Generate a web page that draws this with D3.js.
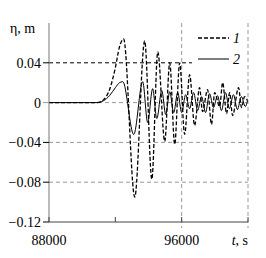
<!DOCTYPE html>
<html>
<head>
<meta charset="utf-8">
<script src="https://cdn.jsdelivr.net/npm/d3@7"></script>
<style>
  body { margin: 0; background: #fff; }
  #chart text { font-family: 'Liberation Serif', 'Times New Roman', Times, serif !important; font-size: 14px; }
</style>
</head>
<body>
<svg id="chart" width="266" height="258"></svg>
<script>
// series 1 (dashed): time, elevation
var t1 = [88000, 90900, 91300, 91650, 92000, 92250, 92500, 93170, 93770, 94200, 94560, 94980,
          95280, 95580, 95880, 96180, 96480, 96780, 97080, 97260, 97560, 97800, 97990, 98290,
          98470, 98710, 98890, 99070, 99430, 99610, 99790, 99970];
var eta1 = [0, 0, 0.003, 0.013, 0.035, 0.056, 0.064, -0.095, 0.062, -0.077, 0.051, -0.039,
            0.040, -0.042, 0.040, -0.032, 0.028, -0.023, 0.015, -0.009, 0.013, -0.022, 0.010, -0.004,
            0.020, -0.011, 0.010, -0.013, 0.015, -0.005, 0.006, 0.002];

// series 2 (solid)
var t2 = [88000, 90900, 91300, 91650, 92000, 92250, 92450, 93110, 93650, 93950, 94250, 94500,
          94800, 95040, 95280, 95520, 95760, 96000, 96240, 96480, 96720, 96960, 97200, 97440,
          97680, 97920, 98160, 98400, 98640, 98880, 99120, 99360, 99600, 99840, 99970];
var eta2 = [0, 0, 0.002, 0.007, 0.015, 0.020, 0.021, -0.032, 0.021, -0.020, 0.014, -0.016,
            0.012, -0.012, 0.011, -0.010, 0.010, -0.010, 0.008, -0.006, 0.010, -0.008, 0.006, -0.010,
            0.009, -0.005, 0.007, -0.008, 0.010, -0.006, 0.008, -0.007, 0.006, -0.004, 0.002];

var yTicks = [0.04, 0, -0.04, -0.08, -0.12];
var yTickLabels = ["0.04", "0", "\u22120.04", "\u22120.08", "\u22120.12"];
var xTicks = [88000, 92000, 96000, 100000];
var xLabels = [88000, 96000];
var legendNames = ["1", "2"];

var svg = d3.select("#chart");
var margin = {top: 23, right: 18, bottom: 36, left: 49};
var width = 266 - margin.left - margin.right;
var height = 258 - margin.top - margin.bottom;
var serif = "'Liberation Serif', 'Times New Roman', Times, serif";

var g = svg.append("g")
    .attr("transform", "translate(" + margin.left + "," + margin.top + ")");

var x = d3.scaleLinear().domain([88000, 100000]).range([0, width]);
var y = d3.scaleLinear().domain([-0.12, 0.08]).range([height, 0]);

// horizontal grid
g.selectAll(".hgrid")
    .data([0, -0.04, -0.08])
    .enter().append("line")
    .attr("x1", 0).attr("x2", width)
    .attr("y1", function(d) { return y(d); })
    .attr("y2", function(d) { return y(d); })
    .attr("stroke", "#999")
    .attr("stroke-dasharray", "4,3");

// vertical grid
g.selectAll(".vgrid")
    .data([96000, 100000])
    .enter().append("line")
    .attr("x1", function(d) { return x(d); })
    .attr("x2", function(d) { return x(d); })
    .attr("y1", 0).attr("y2", height + 6)
    .attr("stroke", "#999")
    .attr("stroke-dasharray", "4,3");

// 0.04 line, black, stops at legend
g.append("line")
    .attr("x1", 0).attr("x2", 143)
    .attr("y1", y(0.04)).attr("y2", y(0.04))
    .attr("stroke", "#000")
    .attr("stroke-dasharray", "4,3");

// data lines
var line = d3.line()
    .x(function(d) { return x(d[0]); })
    .y(function(d) { return y(d[1]); })
    .curve(d3.curveMonotoneX);

g.append("path")
    .datum(d3.zip(t2, eta2))
    .attr("fill", "none")
    .attr("stroke", "#000")
    .attr("stroke-width", 1)
    .attr("d", line);

g.append("path")
    .datum(d3.zip(t1, eta1))
    .attr("fill", "none")
    .attr("stroke", "#000")
    .attr("stroke-width", 1.3)
    .attr("stroke-dasharray", "4,2")
    .attr("d", line);

// axes
g.append("line")
    .attr("x1", 0).attr("x2", 0)
    .attr("y1", 0).attr("y2", height)
    .attr("stroke", "#777");
g.append("line")
    .attr("x1", 0).attr("x2", width)
    .attr("y1", height).attr("y2", height)
    .attr("stroke", "#444");

g.selectAll(".ytick")
    .data(yTicks)
    .enter().append("line")
    .attr("x1", -6).attr("x2", 0)
    .attr("y1", function(d) { return y(d); })
    .attr("y2", function(d) { return y(d); })
    .attr("stroke", function(d) { return d === 0 ? "#999" : "#000"; });

g.selectAll(".xtick")
    .data(xTicks)
    .enter().append("line")
    .attr("x1", function(d) { return x(d); })
    .attr("x2", function(d) { return x(d); })
    .attr("y1", height - 5).attr("y2", height)
    .attr("stroke", "#444");

g.selectAll(".ylabel")
    .data(yTicks)
    .enter().append("text")
    .style("font-family", serif)
    .attr("x", -8)
    .attr("y", function(d) { return y(d) + 5; })
    .attr("text-anchor", "end")
    .text(function(d, i) { return yTickLabels[i]; });

g.selectAll(".xlabel")
    .data(xLabels)
    .enter().append("text")
    .style("font-family", serif)
    .attr("x", function(d) { return x(d); })
    .attr("y", height + 23)
    .attr("text-anchor", "middle")
    .text(function(d) { return d; });

g.append("text")
    .style("font-family", serif)
    .attr("x", width)
    .attr("y", height + 23)
    .attr("text-anchor", "end")
    .html('<tspan font-style="italic">t</tspan>, s');

svg.append("text")
    .style("font-family", serif)
    .attr("x", 10)
    .attr("y", 33)
    .text("\u03b7, m");

// legend
var lg = g.append("g").attr("transform", "translate(143,2)");
lg.append("rect")
    .attr("width", 54).attr("height", 46)
    .attr("fill", "#fff");
legendNames.forEach(function(name, i) {
    lg.append("line")
        .attr("x1", 6).attr("x2", 37)
        .attr("y1", 13 + i * 21).attr("y2", 13 + i * 21)
        .attr("stroke", "#000")
        .attr("stroke-width", i === 0 ? 1.3 : 1)
        .attr("stroke-dasharray", i === 0 ? "4,2" : null);
    lg.append("text")
        .style("font-family", serif)
        .attr("x", 41)
        .attr("y", 18 + i * 21)
        .attr("font-style", "italic")
        .text(name);
});
</script>
</body>
</html>
